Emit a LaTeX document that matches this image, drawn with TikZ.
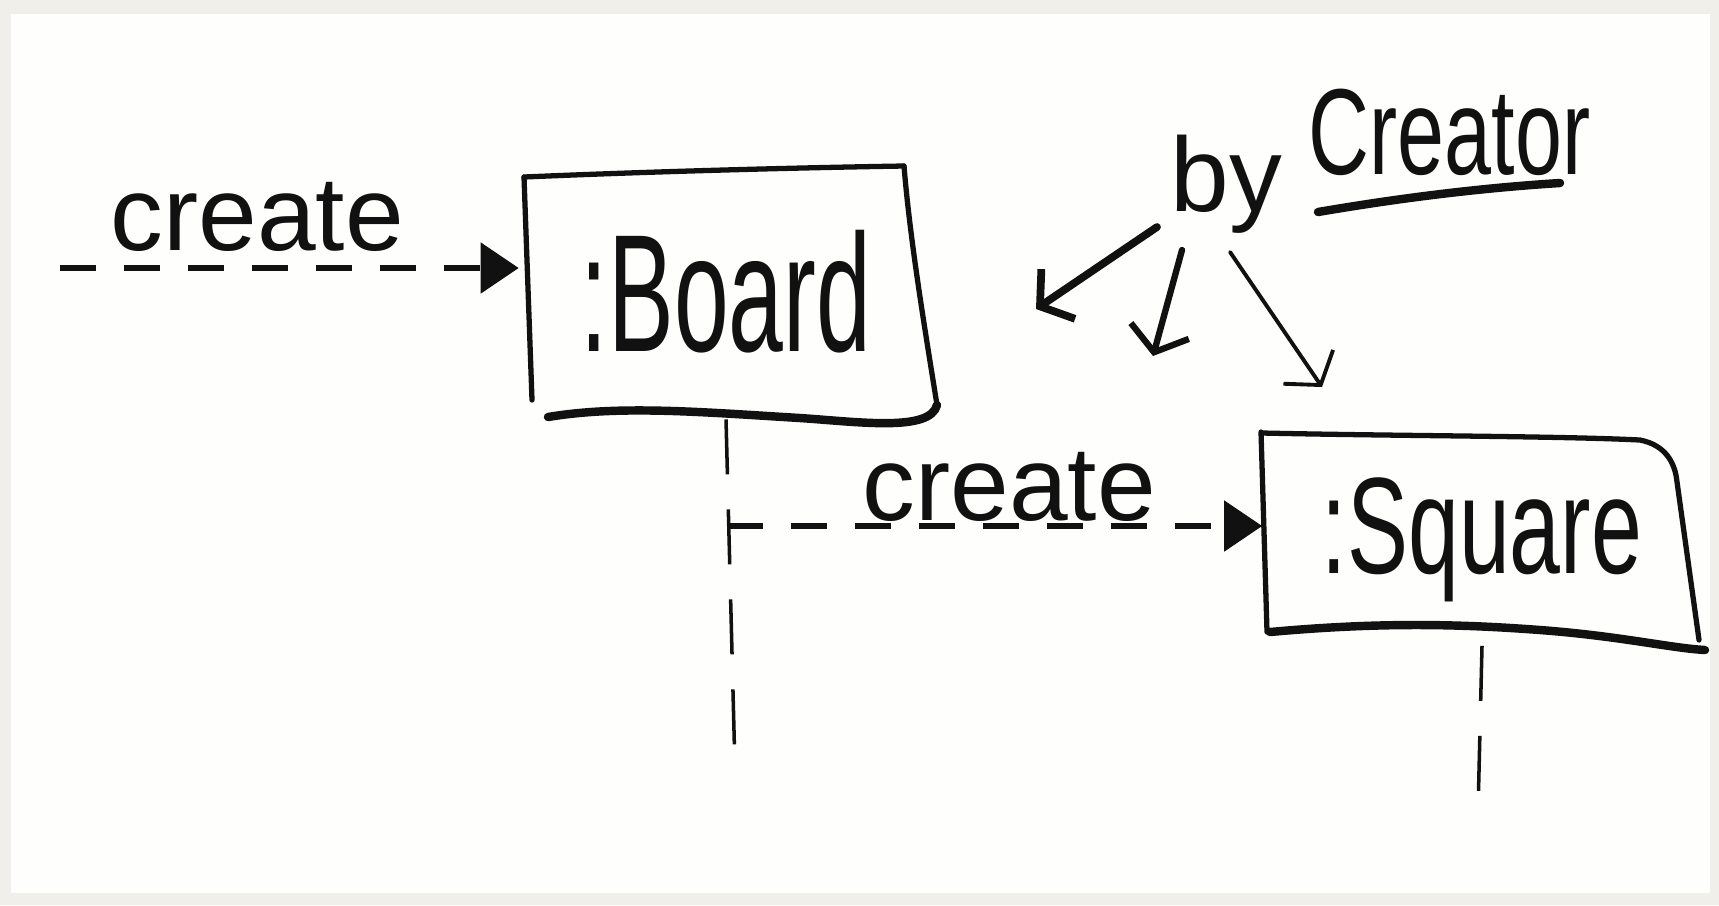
\documentclass[tikz,border=0pt]{standalone}
\usepackage{fontspec}
\setmainfont{Liberation Sans}
\usetikzlibrary{arrows.meta}
\definecolor{bgband}{HTML}{F1EFEA}
\definecolor{paper}{HTML}{FEFEFC}
\definecolor{ink}{HTML}{111111}
\tikzset{
  boxline/.style={draw=ink, line width=1.5pt, line cap=round, line join=round},
  boxbottom/.style={draw=ink, line width=2.4pt, line cap=round, line join=round},
  objbox/.style={inner sep=0pt, text=ink},
  msglabel/.style={inner sep=0pt, text=ink, font=\fontsize{30}{32}\selectfont},
  msgarrow/.style={draw=ink, line width=1.5pt, dash pattern=on 0.36cm off 0.28cm,
    -{Triangle[length=0.38cm,width=0.5cm]}},
  lifeline/.style={draw=ink, line width=1pt, dash pattern=on 0.55cm off 0.35cm},
  notearrow/.style={draw=ink, line cap=round, -{Straight Barb[length=0.22cm,width=0.6cm]}},
}
\begin{document}
\begin{tikzpicture}[x=0.01cm, y=-0.01cm]
  \useasboundingbox (0,0) rectangle (1719,905);
  \fill[bgband] (0,0) rectangle (1719,905);
  \fill[paper] (11,14) rectangle (1710,893);

  % object boxes (nodes)
  \node[objbox, minimum width=4.13cm, minimum height=2.53cm] (board) at (726,292)
    {\fontsize{28}{30}\selectfont\scalebox{1}[1.7]{:Board}};
  \node[objbox, minimum width=4.38cm, minimum height=2.1cm] (square) at (1482,540)
    {\fontsize{26}{28}\selectfont\scalebox{1}[1.5]{:Square}};

  % hand-drawn outlines
  \draw[boxline] (524,177) .. controls (640,172) and (780,168) .. (904,166);
  \draw[boxline] (904,166) .. controls (910,240) and (925,330) .. (937,405);
  \draw[boxline] (524,177) -- (532,400);
  \draw[boxbottom] (548,417) .. controls (620,405) and (700,412) .. (800,418)
    .. controls (860,422) and (930,432) .. (937,405);

  \draw[boxline] (1261,432) -- (1267,632);
  \draw[boxline] (1262,433) .. controls (1400,436) and (1560,436) .. (1640,440)
    .. controls (1665,445) and (1675,462) .. (1677,482) -- (1699,640);
  \draw[boxbottom] (1270,632) .. controls (1380,622) and (1460,624) .. (1540,630)
    .. controls (1620,636) and (1670,648) .. (1705,650);

  % lifelines
  \coordinate (boardend) at (735,770);
  \coordinate (squareend) at (1478,812);
  \draw[lifeline] (board.south) -- (boardend);
  \draw[lifeline] (square.south) -- (squareend);

  % messages
  \coordinate (m1start) at (60,268);
  \coordinate (m2start) at (727,526);
  \draw[msgarrow] (m1start) -- (m1start -| board.west);
  \draw[msgarrow] (m2start) -- (m2start -| square.west);
  \node[msglabel, anchor=base west] (lbl1) at (110,250) {create};
  \node[msglabel, anchor=base west] (lbl2) at (862,520) {create};

  % note "by Creator"
  \node[inner sep=0pt, text=ink, anchor=base west, font=\fontsize{30}{32}\selectfont]
    (by) at (1170,211) {by};
  \node[inner sep=0pt, text=ink, anchor=base west, font=\fontsize{24}{26}\selectfont]
    (creator) at (1308,174) {\scalebox{1}[1.45]{Creator}};
  \coordinate (ulA) at (1318,212);
  \coordinate (ulB) at (1560,183);
  \draw[ink, line width=2.4pt, line cap=round] (ulA) .. controls (1400,198) and (1480,188) .. (ulB);

  \coordinate (n1s) at (1157,227);
  \coordinate (n1e) at (1036,309);
  \coordinate (n2s) at (1182,250);
  \coordinate (n2e) at (1153,356);
  \coordinate (n3s) at (1230,252);
  \coordinate (n3e) at (1322,387);
  \draw[notearrow, line width=2.2pt] (n1s) -- (n1e);
  \draw[notearrow, line width=1.8pt] (n2s) -- (n2e);
  \draw[notearrow, line width=1.1pt] (n3s) -- (n3e);
\end{tikzpicture}
\end{document}
